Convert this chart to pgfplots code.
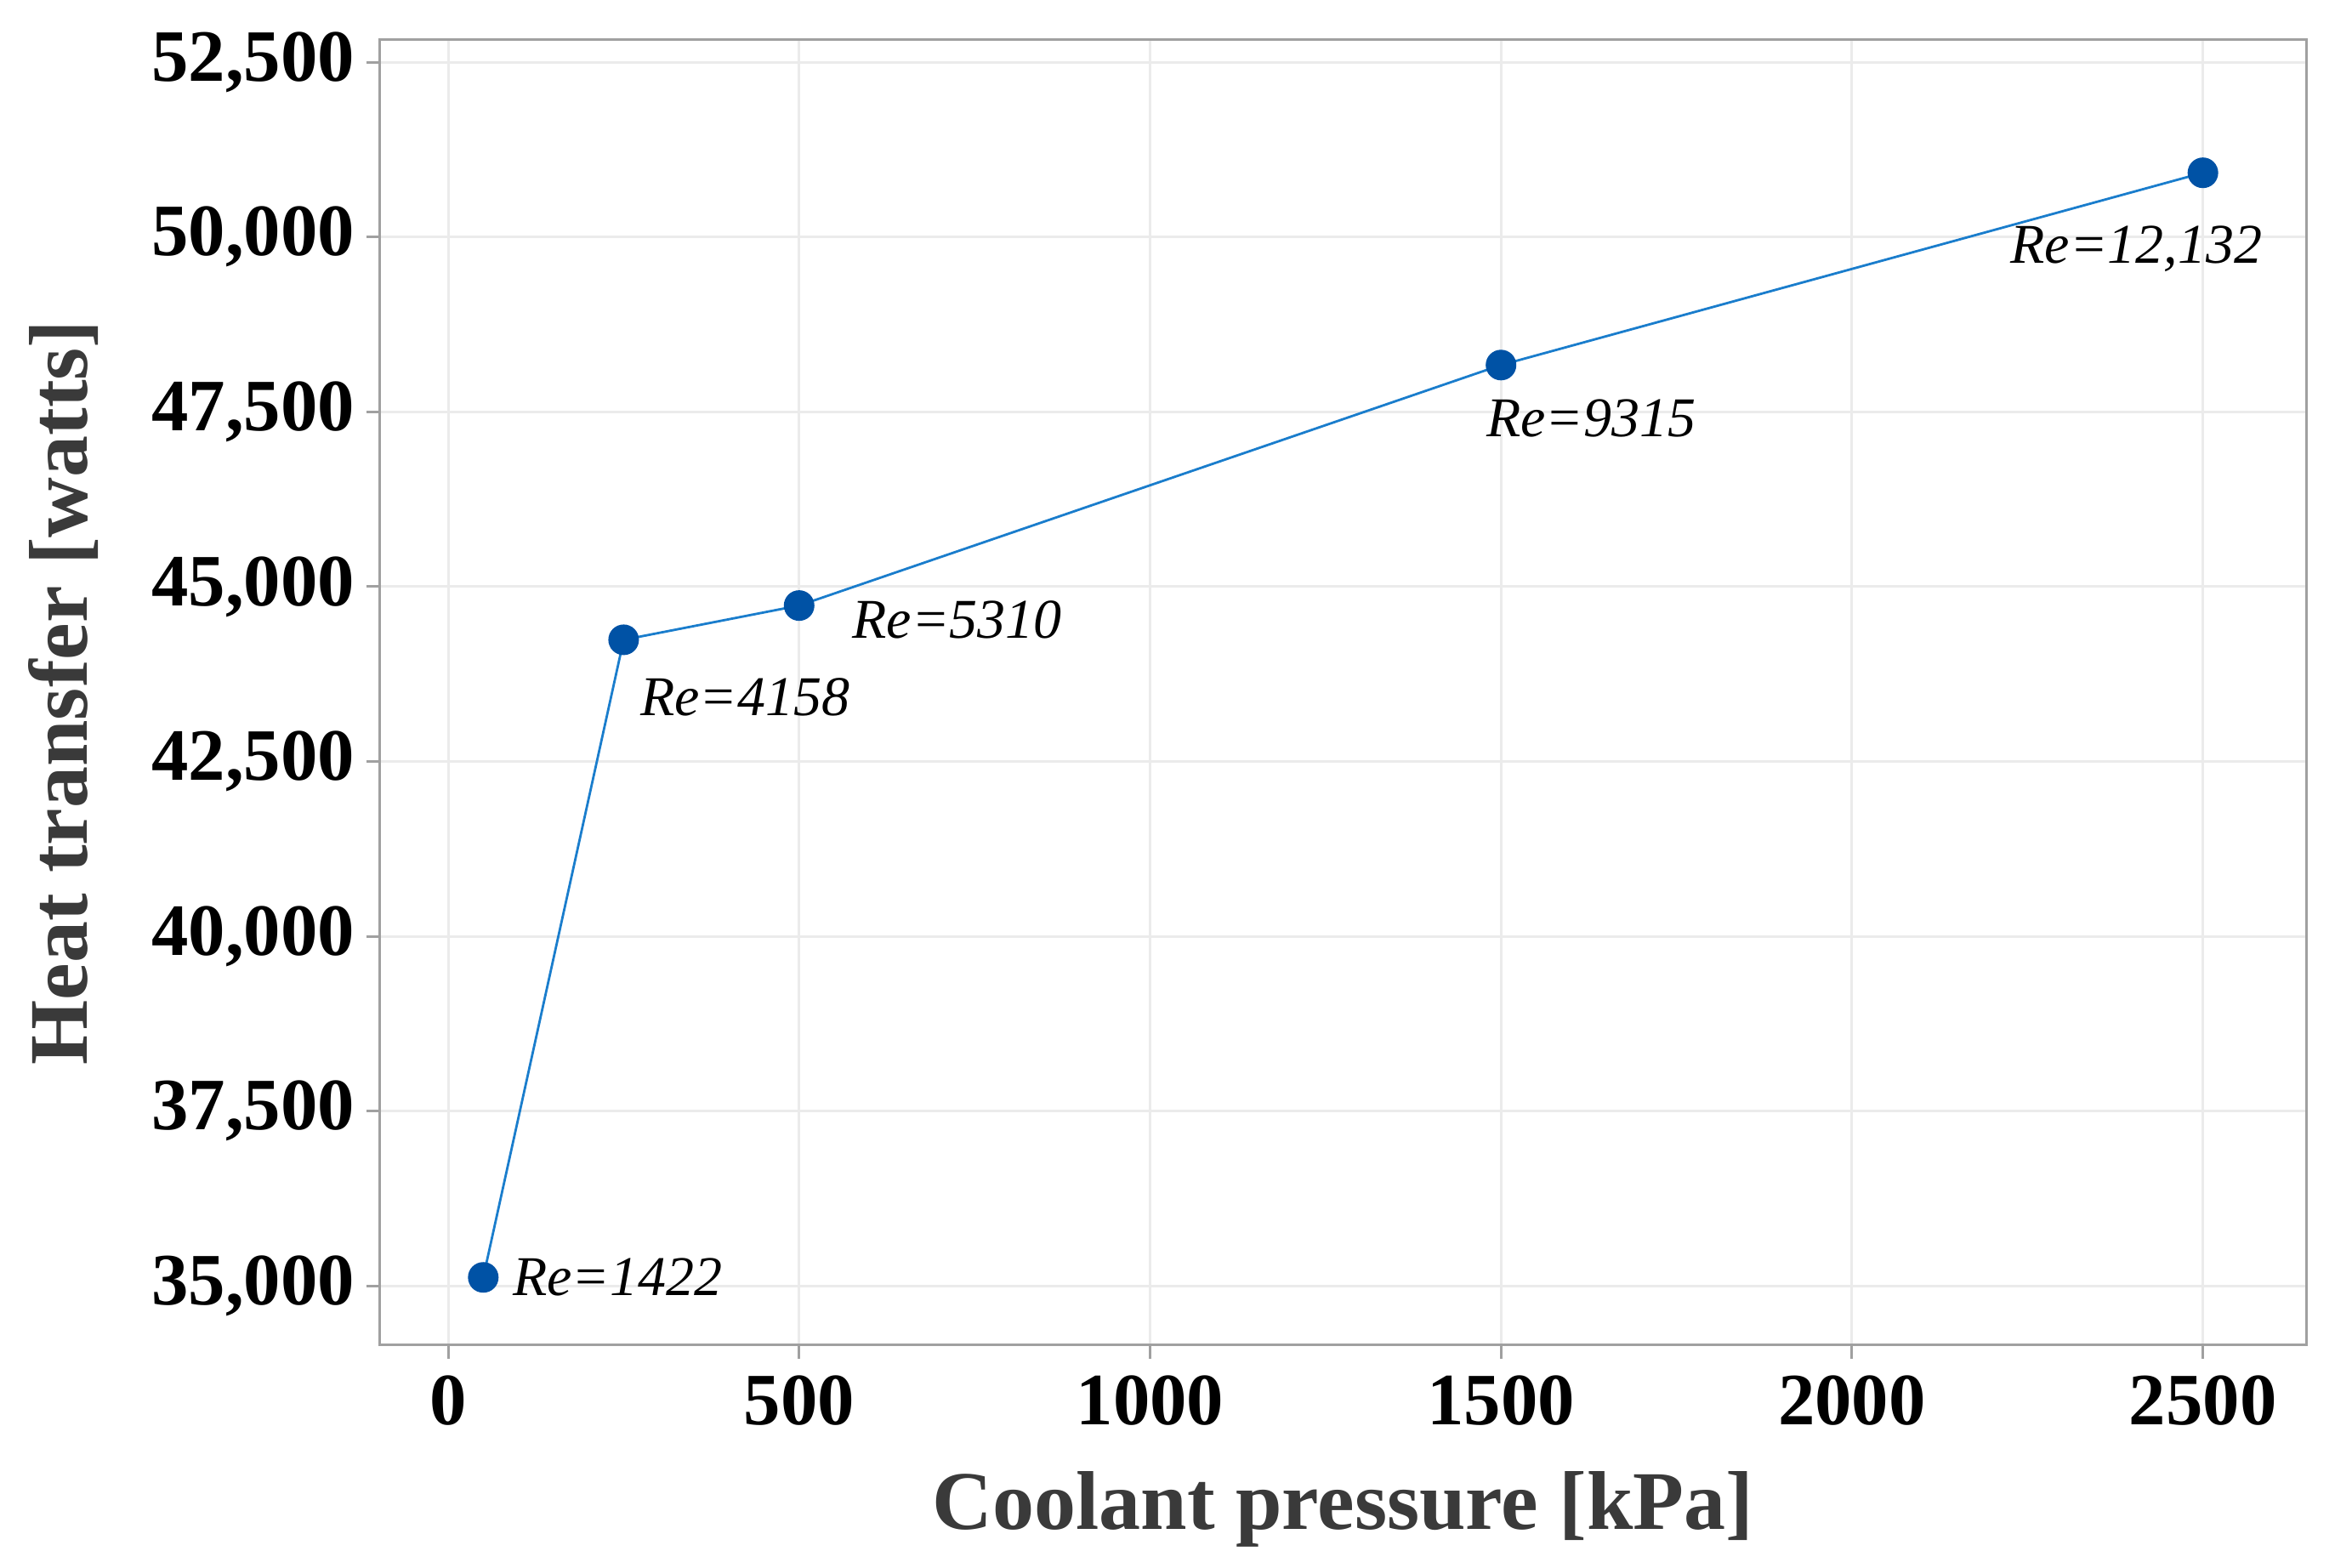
\documentclass[border=0pt]{standalone}
\usepackage{fontspec}
\setmainfont{Liberation Serif}
\usepackage{pgfplots}
\pgfplotsset{compat=1.18}
\definecolor{ptcol}{HTML}{0052A5}
\definecolor{lncol}{HTML}{1A7DCC}
\definecolor{gridc}{HTML}{EBEBEB}
\definecolor{framec}{HTML}{A0A0A0}
\definecolor{titlec}{HTML}{3A3A3A}
\newcommand{\anno}{\itshape\fontsize{16.5}{16.5}\selectfont}
\begin{document}
\begin{tikzpicture}
\begin{axis}[
  at={(0,0)}, anchor=south west,
  scale only axis, width=566.25pt, height=383.75pt,
  xmin=-97, xmax=2647, ymin=34150, ymax=52820,
  xtick={0,500,1000,1500,2000,2500},
  ytick={35000,37500,40000,42500,45000,47500,50000,52500},
  scaled ticks=false,
  grid=major, major grid style={gridc, line width=0.75pt},
  axis line style={framec, line width=0.75pt},
  tick style={framec, line width=0.75pt},
  tick align=outside, major tick length=4pt,
  xtick pos=bottom, ytick pos=left,
  /pgf/number format/assume math mode=true,
  ticklabel style={font=\bfseries\fontsize{21.7}{21.7}\selectfont, text=black},
  yticklabel style={/pgf/number format/1000 sep={,}, anchor=east, inner sep=0pt, xshift=-3.25pt},
  xticklabel style={/pgf/number format/1000 sep={}, anchor=north, inner sep=0pt, yshift=-4.75pt},
  xlabel={Coolant pressure [kPa]},
  ylabel={Heat transfer [watts]},
  label style={font=\bfseries\fontsize{24.5}{24.5}\selectfont, text=titlec},
  xlabel style={at={(axis description cs:0.5,-0.14072)}, anchor=base},
  ylabel style={at={(axis description cs:-0.15232,0.5)}, anchor=base},
  clip=false,
]
\addplot[color=lncol, line width=0.7pt, mark=*, mark size=4.15pt,
  mark options={fill=ptcol, draw=ptcol}] coordinates {
  (50,35120) (250,44240) (500,44730) (1500,48170) (2500,50920)
};
\node[anchor=west, inner sep=0pt, xshift=8.5pt, font=\anno] at (axis cs:50,35120) {Re=1422};
\node[anchor=west, inner sep=0pt, xshift=4.75pt, yshift=-16.75pt, font=\anno] at (axis cs:250,44240) {Re=4158};
\node[anchor=west, inner sep=0pt, xshift=15.5pt, yshift=-4.25pt, font=\anno] at (axis cs:500,44730) {Re=5310};
\node[anchor=west, inner sep=0pt, xshift=-4.5pt, yshift=-15.75pt, font=\anno] at (axis cs:1500,48170) {Re=9315};
\node[anchor=west, inner sep=0pt, xshift=-56.75pt, yshift=-22.5pt, font=\anno] at (axis cs:2500,50920) {Re=12,132};
\end{axis}
\pgfresetboundingbox
\path[use as bounding box] (-111.75pt,-65.5pt) rectangle (574.75pt,395.5pt);
\end{tikzpicture}
\end{document}
